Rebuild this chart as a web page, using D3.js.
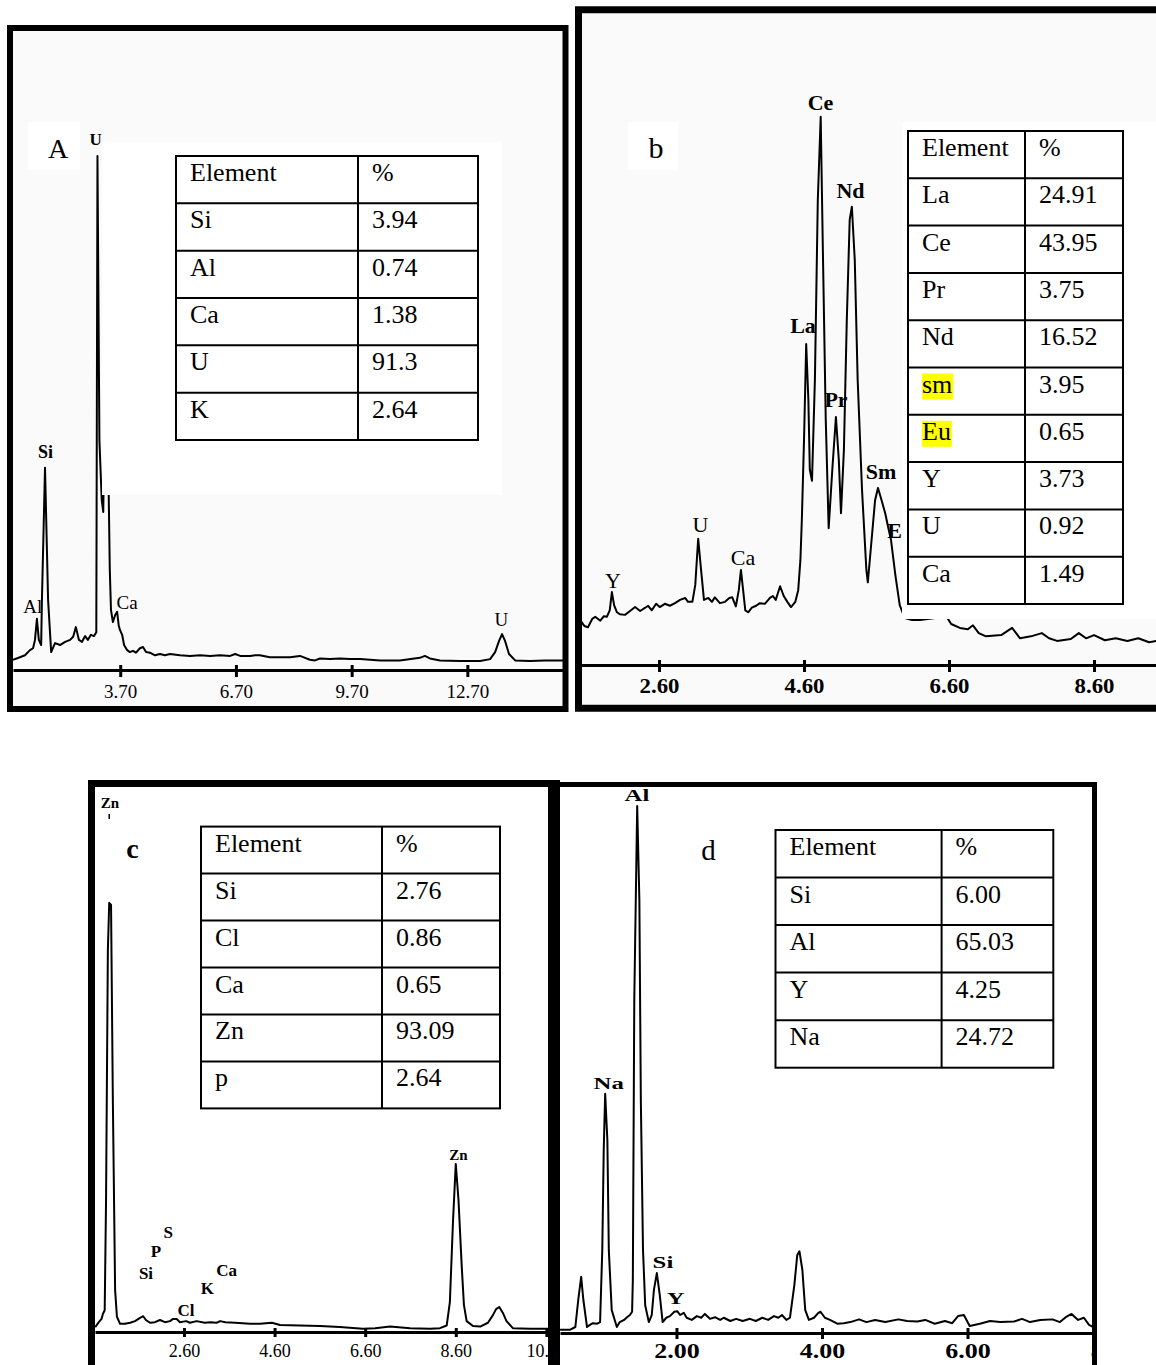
<!DOCTYPE html>
<html>
<head>
<meta charset="utf-8">
<script src="https://cdn.jsdelivr.net/npm/d3@7"></script>
<style>
  body { margin: 0; background: #fff; }
  svg { display: block; }
  text { font-family: "Liberation Serif", "Times New Roman", serif; fill: #000; }
</style>
</head>
<body>
<svg id="fig" width="1156" height="1365"></svg>
<script>
// ---------- panel A (U rich sample)
const specA_keV = [0.92,1.10,1.23,1.36,1.44,1.49,1.54,1.59,1.65,1.67,1.75,1.83,1.91,2.01,2.14,2.27,2.40,2.48,2.55,2.63,2.71,2.79,2.86,2.94,3.02,3.08,3.11,3.16,3.22,3.26,3.33,3.40,3.43,3.46,3.51,3.57,3.62,3.66,3.69,3.75,3.80,3.88,3.95,4.03,4.11,4.21,4.29,4.37,4.47,4.60,4.73,4.86,4.99,5.25,5.51,5.77,6.03,6.29,6.55,6.68,6.81,7.07,7.20,7.32,7.58,7.84,8.10,8.36,8.62,8.75,8.88,9.14,9.40,9.66,9.92,10.18,10.44,10.95,11.47,11.60,11.73,11.99,12.51,13.03,13.29,13.42,13.52,13.60,13.68,13.78,13.94,14.32,14.71,15.18];
const specA_cps = [1.6,2.0,2.3,3.1,3.4,4.7,8.0,4.7,3.9,10.9,31.6,10.9,2.8,4.2,3.9,4.4,4.7,5.2,6.7,4.7,4.4,5.3,4.7,5.5,5.3,5.9,80.3,35.9,26.6,24.7,53.1,28.1,15.6,9.4,7.5,8.6,9.1,7.0,6.3,5.5,3.9,3.1,2.8,3.0,2.7,3.4,3.6,2.8,2.7,2.3,2.5,2.3,2.5,2.3,2.2,2.3,2.2,2.3,2.2,2.5,2.2,2.2,2.3,2.3,2.0,2.0,2.0,2.2,1.6,1.5,1.8,1.7,1.8,1.7,1.7,1.6,1.5,1.5,1.9,2.2,1.8,1.5,1.4,1.4,1.7,2.8,4.5,5.6,4.5,2.5,1.5,1.4,1.5,1.5];
const ticksA = [3.7, 6.7, 9.7, 12.7];
const peaksA_el = ["U", "Si", "Al", "Ca", "U"];
const peaksA_keV = [3.06, 1.76, 1.43, 3.88, 13.58];
const peaksA_cps = [82.0, 33.1, 8.9, 9.5, 6.9];
const tableA_el = ["Element", "Si", "Al", "Ca", "U", "K"];
const tableA_pct = ["%", "3.94", "0.74", "1.38", "91.3", "2.64"];

// ---------- panel b (rare earths)
const specB_keV = [1.51,1.57,1.62,1.68,1.72,1.79,1.84,1.88,1.92,1.95,1.98,2.02,2.06,2.13,2.20,2.27,2.34,2.41,2.45,2.50,2.56,2.61,2.68,2.75,2.82,2.89,2.96,3.00,3.06,3.10,3.14,3.18,3.22,3.28,3.33,3.37,3.44,3.51,3.57,3.61,3.66,3.70,3.73,3.76,3.79,3.83,3.88,3.94,3.99,4.06,4.13,4.17,4.21,4.27,4.32,4.37,4.42,4.48,4.52,4.55,4.57,4.60,4.63,4.66,4.68,4.71,4.75,4.79,4.83,4.86,4.90,4.94,4.99,5.04,5.08,5.11,5.15,5.19,5.23,5.26,5.30,5.34,5.40,5.46,5.48,5.52,5.58,5.62,5.66,5.72,5.76,5.80,5.86,5.92,5.99,6.09,6.20,6.41,6.55,6.63,6.75,6.86,6.93,7.01,7.11,7.32,7.47,7.58,7.73,7.88,7.98,8.09,8.28,8.39,8.49,8.60,8.75,8.90,9.06,9.21,9.36,9.46];
const specB_cps = [6.9,6.0,5.8,7.1,7.4,6.8,7.5,7.4,8.4,11.2,9.2,8.1,7.8,7.7,8.3,8.9,8.3,8.8,9.1,8.4,9.4,8.9,9.4,9.1,9.5,10.0,10.3,9.7,9.7,12.3,19.4,14.6,10.0,10.3,9.7,10.4,9.5,9.7,10.3,10.4,9.0,11.5,14.6,11.5,8.4,8.1,8.8,9.1,9.5,9.4,10.3,10.6,10.0,12.1,10.6,9.7,8.9,9.7,11.5,16.1,22.3,34.6,49.3,40.7,30.0,28.3,43.8,71.4,84.2,63.7,37.6,21.0,30.0,38.1,31.5,23.3,33.0,53.0,68.4,70.4,62.2,43.8,26.9,14.6,12.7,17.7,25.3,27.2,25.7,23.3,21.2,19.2,13.8,9.2,7.2,6.9,6.9,7.2,7.7,6.3,5.7,5.5,6.1,4.9,4.4,4.6,5.7,4.1,4.4,4.9,4.1,3.7,4.0,4.9,4.1,4.6,3.8,4.1,3.7,4.1,3.5,3.7];
const ticksB = [2.6, 4.6, 6.6, 8.6];
const peaksB_el = ["Ce", "Nd", "La", "Pr", "Sm", "Eu", "U", "Ca", "Y"];
const peaksB_keV = [4.828, 5.241, 4.586, 5.041, 5.662, 5.932, 3.172, 3.759, 1.966];
const peaksB_cps = [85.3, 71.7, 51.0, 39.6, 28.6, 19.5, 20.4, 15.3, 11.8];
const tableB_el = ["Element", "La", "Ce", "Pr", "Nd", "sm", "Eu", "Y", "U", "Ca"];
const tableB_pct = ["%", "24.91", "43.95", "3.75", "16.52", "3.95", "0.65", "3.73", "0.92", "1.49"];
const tableB_marked = ["sm", "Eu"];

// ---------- panel c (Zn rich sample)
const specC_keV = [0.64,0.72,0.78,0.81,0.85,0.88,0.92,0.95,0.99,1.03,1.08,1.12,1.19,1.30,1.41,1.52,1.63,1.70,1.76,1.85,1.96,2.07,2.18,2.29,2.36,2.44,2.51,2.65,2.73,2.88,3.06,3.18,3.32,3.40,3.51,3.73,4.06,4.28,4.54,4.72,5.16,5.60,6.04,6.55,6.82,7.15,7.59,8.03,8.25,8.40,8.47,8.54,8.60,8.66,8.73,8.78,8.84,8.98,9.14,9.31,9.42,9.49,9.56,9.64,9.72,9.86,10.24,10.64];
const specC_cps = [0.9,1.8,2.4,3.3,4.0,24.3,70.2,78.9,78.5,42.6,7.7,2.8,1.5,1.5,1.7,2.0,2.6,2.9,2.2,1.7,1.8,2.2,1.8,2.0,2.4,2.4,1.8,2.0,1.7,2.0,1.7,1.8,1.7,2.0,1.8,1.7,1.5,1.5,1.7,1.3,1.2,1.1,0.9,0.6,0.7,1.0,0.7,0.6,0.7,1.2,5.5,20.6,30.9,24.3,12.3,5.0,2.0,1.1,1.0,1.7,3.1,4.2,4.6,3.5,2.0,0.7,0.6,0.6];
const ticksC = [2.6, 4.6, 6.6, 8.6, 10.6];
const peaksC_el = ["Zn", "S", "P", "Si", "Ca", "K", "Cl", "Zn"];
const peaksC_keV = [0.967, 2.254, 1.982, 1.762, 3.543, 3.115, 2.645, 8.656];
const peaksC_cps = [96.3, 17.3, 13.7, 9.7, 10.3, 7.0, 3.0, 31.6];
const markC_keV = [0.95];
const tableC_el = ["Element", "Si", "Cl", "Ca", "Zn", "p"];
const tableC_pct = ["%", "2.76", "0.86", "0.65", "93.09", "2.64"];

// ---------- panel d (Al / Na sample)
const specD_keV = [0.40,0.54,0.61,0.65,0.69,0.72,0.77,0.81,0.85,0.91,0.95,0.98,1.00,1.02,1.05,1.07,1.11,1.18,1.22,1.28,1.32,1.36,1.39,1.40,1.42,1.46,1.49,1.51,1.54,1.57,1.62,1.66,1.69,1.73,1.77,1.81,1.86,1.91,1.97,2.01,2.05,2.10,2.14,2.21,2.28,2.34,2.39,2.46,2.53,2.60,2.65,2.74,2.82,2.91,3.01,3.09,3.18,3.26,3.34,3.40,3.45,3.51,3.56,3.62,3.66,3.69,3.73,3.77,3.82,3.89,3.95,3.98,4.04,4.11,4.21,4.30,4.39,4.51,4.61,4.73,4.87,5.05,5.17,5.31,5.42,5.55,5.69,5.79,5.87,5.95,6.03,6.17,6.31,6.45,6.64,6.75,6.86,7.00,7.17,7.27,7.35,7.43,7.52,7.60,7.67,7.73];
const specD_cps = [0.6,0.6,1.1,6.1,10.3,6.1,1.1,1.5,1.8,1.7,2.0,15.2,33.6,43.9,35.4,15.2,4.2,1.1,2.0,2.4,2.9,3.3,3.9,9.7,61.1,96.7,79.4,42.8,15.2,5.1,2.0,3.3,7.9,11.0,7.0,2.0,2.8,3.1,3.9,4.0,3.3,3.7,2.8,2.4,3.1,2.8,3.5,2.6,2.9,2.4,2.8,2.2,2.6,2.2,2.6,2.2,2.8,2.4,3.1,2.8,3.3,2.4,2.8,8.8,14.3,15.0,11.6,4.2,2.4,2.8,3.7,3.9,2.8,2.4,1.7,1.8,2.0,2.5,2.0,2.4,2.0,2.5,2.2,2.1,2.4,1.7,2.2,1.8,3.1,3.3,1.3,1.7,2.2,2.0,2.1,2.6,2.0,2.4,2.5,2.0,2.9,3.5,2.4,2.8,1.5,1.1];
const ticksD = [2, 4, 6, 8];
const peaksD_el = ["Al", "Na", "Si", "Y"];
const peaksD_keV = [1.457, 1.069, 1.814, 1.989];
const peaksD_cps = [97.7, 44.8, 11.9, 5.3];
const tableD_el = ["Element", "Si", "Al", "Y", "Na"];
const tableD_pct = ["%", "6.00", "65.03", "4.25", "24.72"];

var fig = {};
fig.svg = d3.select("#fig");
fig.defs = fig.svg.append("defs");

// text with an optional horizontal stretch (the scanned labels are wide)
fig.text = (g, x, y, txt, size, weight, sx, anchor) => g.append("text")
  .attr("transform", `translate(${x},${y}) scale(${sx || 1},1)`)
  .attr("text-anchor", anchor || "middle")
  .style("font-size", size + "px")
  .style("font-weight", weight || "normal")
  .text(txt);

fig.box = (g, b, fill) => g.append("rect")
  .attr("x", b[0]).attr("y", b[1]).attr("width", b[2]).attr("height", b[3])
  .attr("fill", fill);

fig.table = (g, t) => {
  const rows = d3.scaleBand().domain(d3.range(t.el.length)).range([t.top, t.bottom]);
  const tg = g.append("g");
  tg.append("rect")
    .attr("x", t.left).attr("y", t.top)
    .attr("width", t.right - t.left).attr("height", t.bottom - t.top)
    .attr("fill", "#fff");

  rows.domain().forEach(i => {
    const y0 = rows(i);
    const a = tg.append("text")
      .attr("x", t.left + 14).attr("y", y0 + 25)
      .style("font-size", "26px")
      .text(t.el[i]);
    if (t.marked && t.marked.includes(t.el[i])) {
      const bb = a.node().getBBox();
      tg.insert("rect", () => a.node())
        .attr("x", bb.x).attr("y", y0 + 6)
        .attr("width", bb.width + 1).attr("height", 26)
        .attr("fill", "#ffff00");
    }
    tg.append("text")
      .attr("x", t.mid + 14).attr("y", y0 + 25)
      .style("font-size", "26px")
      .text(t.pct[i]);
    if (i > 0) {
      tg.append("line")
        .attr("x1", t.left).attr("x2", t.right)
        .attr("y1", y0).attr("y2", y0)
        .attr("stroke", "#000").attr("stroke-width", 2);
    }
  });

  tg.append("line")
    .attr("x1", t.mid).attr("x2", t.mid)
    .attr("y1", t.top).attr("y2", t.bottom)
    .attr("stroke", "#000").attr("stroke-width", 2);
  tg.append("rect")
    .attr("x", t.left).attr("y", t.top)
    .attr("width", t.right - t.left).attr("height", t.bottom - t.top)
    .attr("fill", "none").attr("stroke", "#000").attr("stroke-width", 2);
};

fig.panel = (p) => {
  const g = fig.svg.append("g");
  const clipId = "clip" + p.name;
  fig.defs.append("clipPath").attr("id", clipId)
    .append("rect")
    .attr("x", p.inner[0]).attr("y", p.inner[1])
    .attr("width", p.inner[2]).attr("height", p.inner[3]);

  fig.box(g, p.inner, p.bg);
  const body = g.append("g").attr("clip-path", `url(#${clipId})`);

  const x = d3.scaleLinear().domain(p.dom).range(p.xr);
  const y = d3.scaleLinear().domain([0, 100]).range([p.axisY, p.topY]);

  // energy axis
  const ax = d3.axisBottom(x)
    .tickValues(p.ticks)
    .tickFormat(d3.format(".2f"))
    .tickSizeOuter(0)
    .tickSizeInner(0);
  const ag = body.append("g")
    .attr("transform", `translate(0,${p.axisY})`)
    .call(ax)
    .attr("font-family", null)
    .attr("font-size", null);
  ag.select(".domain").attr("stroke", "#000").attr("stroke-width", 3);
  ag.selectAll(".tick line")
    .attr("y1", p.tick.up).attr("y2", p.tick.down)
    .attr("stroke", "#000").attr("stroke-width", 3);
  ag.selectAll(".tick text")
    .attr("y", p.tick.off).attr("dy", 0)
    .attr("fill", "#000")
    .attr("transform", `scale(${p.tick.sx},1)`)
    .style("font-size", p.tick.size + "px")
    .style("font-weight", p.tick.weight);

  // spectrum
  const line = d3.line()
    .x(d => x(d[0]))
    .y(d => y(d[1]));
  body.append("path")
    .attr("d", line(d3.zip(p.keV, p.cps)))
    .attr("fill", "none")
    .attr("stroke", "#000")
    .attr("stroke-width", 2)
    .attr("stroke-linejoin", "round");

  // peak names
  p.el.forEach((t, i) => {
    const st = p.labStyle(i);
    fig.text(body, x(p.pk[i]), y(p.pc[i]), t, st[0], st[1], st[2]);
  });

  if (p.marks) {
    p.marks.forEach(k => {
      body.append("line")
        .attr("x1", x(k)).attr("x2", x(k))
        .attr("y1", y(94.3)).attr("y2", y(95.2))
        .attr("stroke", "#000").attr("stroke-width", 1.5);
    });
  }

  if (p.cover) fig.box(body, p.cover, "#fff");

  if (p.letter.box) fig.box(g, p.letter.box, "#fff");
  fig.text(g, p.letter.x, p.letter.y, p.letter.t, p.letter.size, p.letter.weight);

  fig.table(g, p.table);

  g.append("rect")
    .attr("x", p.frame[0]).attr("y", p.frame[1])
    .attr("width", p.frame[2]).attr("height", p.frame[3])
    .attr("fill", "none")
    .attr("stroke", "#000")
    .attr("stroke-width", p.frame[4]);
};

fig.init = () => {
  fig.panel({
    name: "A", keV: specA_keV, cps: specA_cps, ticks: ticksA,
    el: peaksA_el, pk: peaksA_keV, pc: peaksA_cps,
    frame: [10, 28, 555.5, 681, 6], inner: [13, 31, 550, 675], bg: "#fafafa",
    dom: [0.92, 15.18], xr: [13, 563], axisY: 670, topY: 30,
    tick: { up: -5, down: 7, off: 28, size: 19, weight: "normal", sx: 1 },
    labStyle: i => i === 0 ? [17, "bold", 1] : i === 1 ? [18, "bold", 1] : [19, "normal", 1],
    cover: [102, 142, 400, 353],
    letter: { t: "A", x: 58, y: 158, size: 28, weight: "normal", box: [28, 122, 52, 48] },
    table: { el: tableA_el, pct: tableA_pct, left: 176, mid: 358, right: 478, top: 156, bottom: 440 }
  });

  fig.panel({
    name: "B", keV: specB_keV, cps: specB_cps, ticks: ticksB,
    el: peaksB_el, pk: peaksB_keV, pc: peaksB_cps,
    frame: [578.5, 9.75, 620, 698.5, 7], inner: [582, 13.25, 574, 691.5], bg: "#fafafa",
    dom: [1.51, 9.455], xr: [580, 1156], axisY: 665, topY: 14,
    tick: { up: -5, down: 7, off: 28, size: 20, weight: "bold", sx: 1.14 },
    labStyle: i => i < 6 ? [22, "bold", 1] : [22, "normal", 1],
    cover: [902, 122, 254, 497],
    letter: { t: "b", x: 656, y: 158, size: 30, weight: "normal", box: [628, 122, 50, 48] },
    table: { el: tableB_el, pct: tableB_pct, marked: tableB_marked, left: 908, mid: 1025, right: 1123, top: 131, bottom: 604 }
  });

  fig.panel({
    name: "C", keV: specC_keV, cps: specC_cps, ticks: ticksC,
    el: peaksC_el, pk: peaksC_keV, pc: peaksC_cps, marks: markC_keV,
    frame: [91.5, 783.5, 462, 700, 7], inner: [95, 787, 453, 600], bg: "#fff",
    dom: [0.636, 10.636], xr: [95, 548], axisY: 1332, topY: 788,
    tick: { up: -4, down: 5, off: 25, size: 18, weight: "normal", sx: 1 },
    labStyle: i => (i === 0 || i === 7) ? [15, "bold", 1] : [17, "bold", 1],
    letter: { t: "c", x: 132.5, y: 858, size: 28, weight: "bold" },
    table: { el: tableC_el, pct: tableC_pct, left: 201, mid: 382, right: 500, top: 826.6, bottom: 1108.4 }
  });

  fig.panel({
    name: "D", keV: specD_keV, cps: specD_cps, ticks: ticksD,
    el: peaksD_el, pk: peaksD_keV, pc: peaksD_cps,
    frame: [557, 784.5, 537.5, 700, 5], inner: [560, 787, 532, 600], bg: "#fff",
    dom: [0.399, 7.725], xr: [560, 1093], axisY: 1333, topY: 788,
    tick: { up: -5, down: 6, off: 25, size: 20, weight: "bold", sx: 1.3 },
    labStyle: i => [16, "bold", 1.55],
    letter: { t: "d", x: 708.5, y: 860, size: 29, weight: "normal" },
    table: { el: tableD_el, pct: tableD_pct, left: 775.5, mid: 941.6, right: 1053.3, top: 830, bottom: 1067.7 }
  });

  // thick rule shared by panels c and d
  fig.box(fig.svg, [548, 780, 12, 600], "#000");
};

fig.init();
</script>
</body>
</html>
